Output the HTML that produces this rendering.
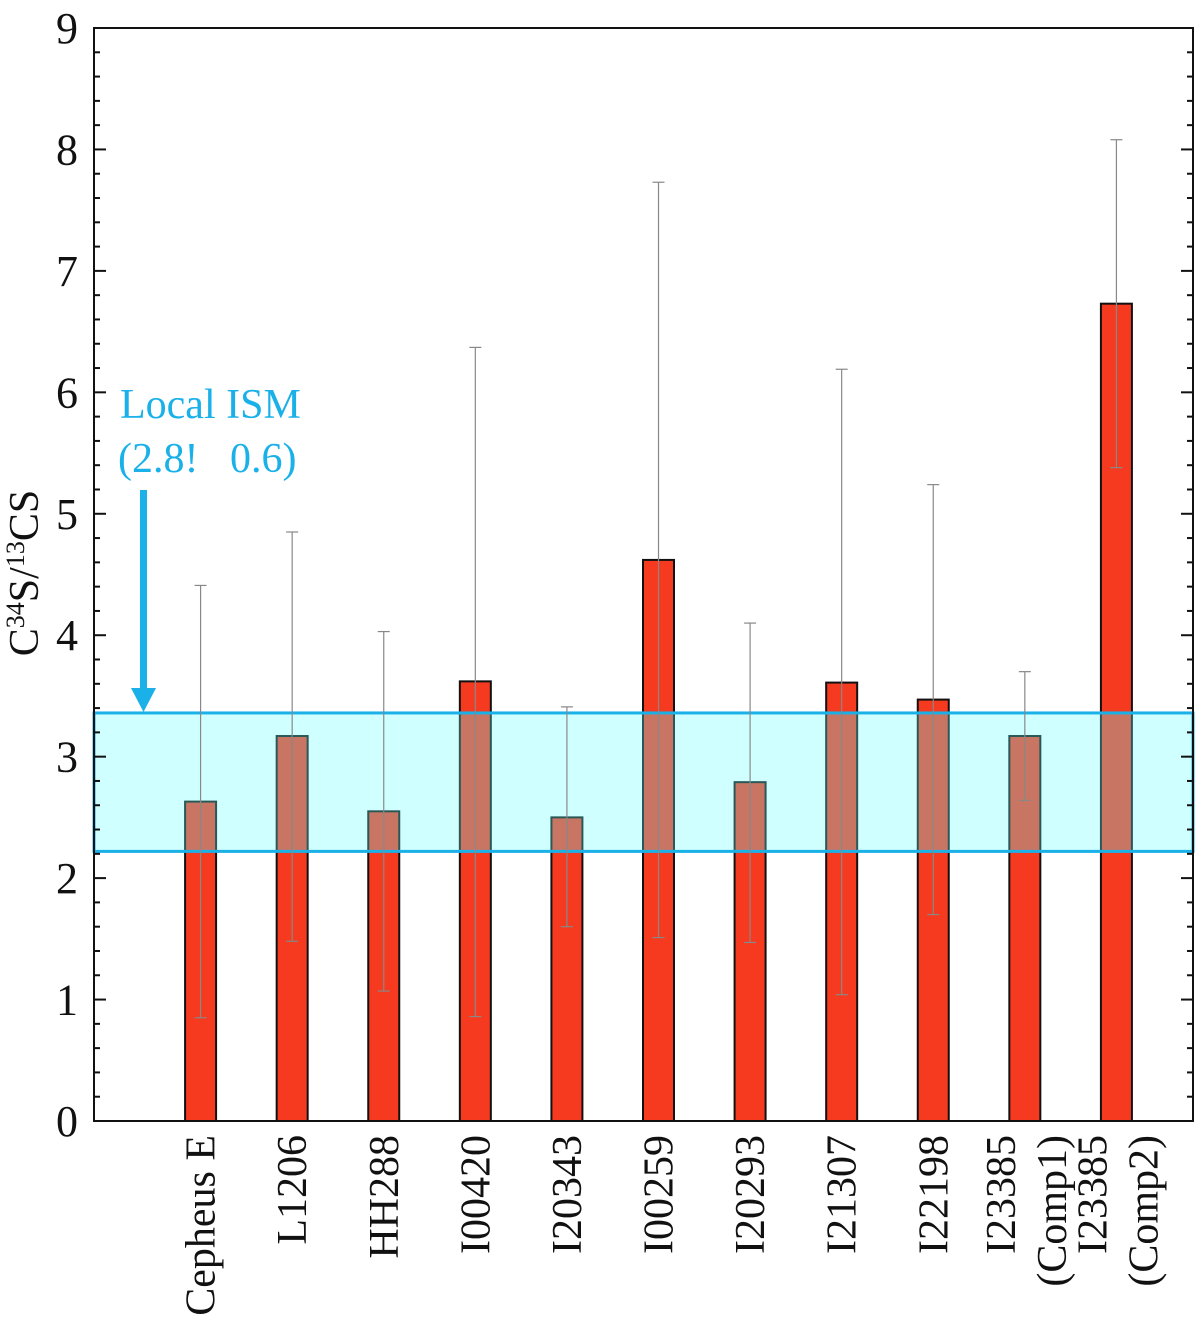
<!DOCTYPE html>
<html><head><meta charset="utf-8"><style>
html,body{margin:0;padding:0;background:#fff;}
svg{display:block;}
svg text{font-family:"Liberation Serif","Times New Roman",serif;}
</style></head><body>
<svg id="chart" width="1200" height="1330" viewBox="0 0 1200 1330" font-family="Liberation Serif, serif">
</svg>
<script>
const categories=["Cepheus E","L1206","HH288","I00420","I20343","I00259","I20293","I21307","I22198","I23385|(Comp1)","I23385|(Comp2)"];
const values=[2.63,3.17,2.55,3.62,2.50,4.62,2.79,3.61,3.47,3.17,6.73];
const errLow=[0.85,1.48,1.07,0.86,1.60,1.51,1.47,1.04,1.70,2.64,5.38];
const errHigh=[4.41,4.85,4.03,6.37,3.41,7.73,4.10,6.19,5.24,3.70,8.08];
const yTicks=[0,1,2,3,4,5,6,7,8,9];
const ismLow=2.22, ismHigh=3.36;

const NS="http://www.w3.org/2000/svg";
const svg=document.getElementById('chart');
const L=94,R=1193,T=28,B=1121,ymax=9;
const slot=(R-L)/12;
const y=v=>B-(v/ymax)*(B-T);
const xLeft=i=>L+(i+1)*slot-0.5;
const bw=31;
const xc=i=>xLeft(i)+bw/2;
function mk(tag,attrs,parent){const e=document.createElementNS(NS,tag);for(const k in attrs)e.setAttribute(k,attrs[k]);(parent||svg).appendChild(e);return e;}

const gb=mk('g',{});


values.forEach((v,i)=>{
  const r=mk('rect',{x:xLeft(i),y:y(v),width:bw,height:B-y(v),fill:'#f53a20',stroke:'#111','stroke-width':2},gb);
  
  
});
const band=mk('rect',{x:L,y:y(ismHigh),width:R-L,height:y(ismLow)-y(ismHigh),fill:'rgb(100,255,255)','fill-opacity':0.3,stroke:'#1ab0e8','stroke-width':3});


const ge=mk('g',{stroke:'#888','stroke-width':1.2});


values.forEach((v,i)=>{
  const x=xc(i);
  const l=mk('line',{x1:x,x2:x,y1:y(errLow[i]),y2:y(errHigh[i])},ge);
  
  
  mk('line',{x1:x-6,x2:x+6,y1:y(errLow[i]),y2:y(errLow[i])},ge);
  mk('line',{x1:x-6,x2:x+6,y1:y(errHigh[i]),y2:y(errHigh[i])},ge);
});
const frame=mk('rect',{x:L,y:T,width:R-L,height:B-T,fill:'none',stroke:'#111','stroke-width':2});


const gt=mk('g',{stroke:'#111','stroke-width':2});


for(let k=0;k<=45;k++){
  const v=k*0.2, yy=y(v), len=(k%5===0)?12:6;
  mk('line',{x1:L,x2:L+len,y1:yy,y2:yy},gt);
  mk('line',{x1:R,x2:R-len,y1:yy,y2:yy},gt);
}
yTicks.forEach(t=>{
  const tx=mk('text',{x:78,y:y(t)+15,'text-anchor':'end','font-size':44,fill:'#111'});
  tx.textContent=t;
  
  
});
categories.forEach((c,i)=>{
  const parts=c.split('|');
  parts.forEach((p,j)=>{
    const off=parts.length===1?0:(j===0?-24:27);
    const x=xc(i)+off+14;
    const tx=mk('text',{x:0,y:0,transform:`translate(${x},1135) rotate(-90)`,'text-anchor':'end','font-size':42,fill:'#111'});
    tx.textContent=p;
    
    
  });
});
const yt=mk('text',{x:0,y:0,transform:'translate(38,573) rotate(-90)','text-anchor':'middle','font-size':42,fill:'#111'});
yt.innerHTML='C<tspan baseline-shift="super" font-size="26">34</tspan>S/<tspan baseline-shift="super" font-size="26">13</tspan>CS';


const a1=mk('text',{x:120,y:418,'font-size':42,fill:'#1ab0e8'});a1.textContent='Local ISM';


const a2=mk('text',{x:118,y:472,'font-size':42,fill:'#1ab0e8'});a2.textContent='(2.8!   0.6)';
a2.style.whiteSpace='pre';


const ar=mk('g',{fill:'#1ab0e8'});


mk('rect',{x:140,y:490,width:7,height:200},ar);
mk('polygon',{points:'131,688 156,688 143.5,712'},ar);
</script>
</body></html>
